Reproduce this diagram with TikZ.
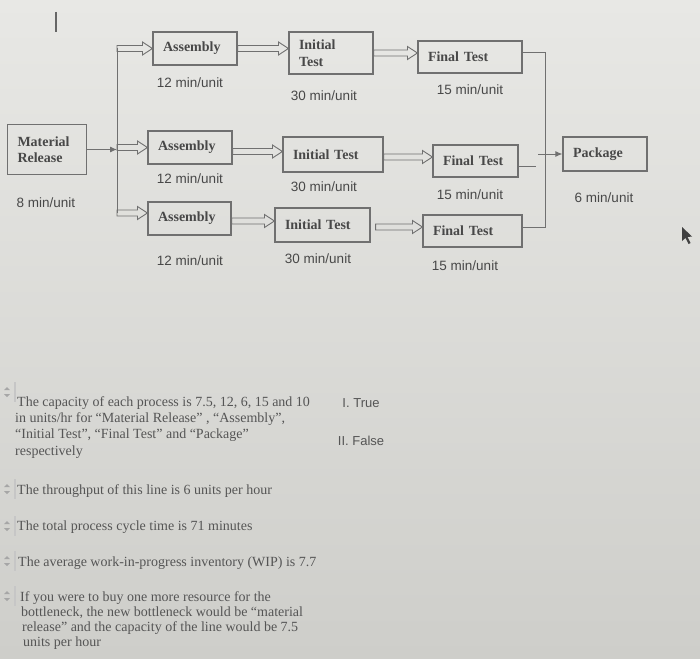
\documentclass[tikz,border=0pt]{standalone}
\usepackage{fontspec}
\setmainfont{Liberation Serif}
\newfontfamily\lsans{Liberation Sans}
\usetikzlibrary{calc,arrows.meta}
\definecolor{bgtop}{RGB}{232,232,229}
\definecolor{bgbot}{RGB}{206,206,202}
\definecolor{ink}{RGB}{72,72,72}
\definecolor{qink}{RGB}{85,85,85}
\definecolor{edge}{RGB}{112,112,112}
\newcommand\hollowarr[2]{%
  \draw[harr] ($(#1)+(0,-3)$) -- ($(#2)+(-10,-3)$) -- ($(#2)+(-10,-6.5)$) -- (#2)
    -- ($(#2)+(-10,6.5)$) -- ($(#2)+(-10,3)$) -- ($(#1)+(0,3)$) -- cycle;}
\newcommand\spinner[1]{%
  \fill[gray!70] ($(#1)+(1,-2)$) -- ($(#1)+(7,-2)$) -- ($(#1)+(4,-5)$) -- cycle;
  \fill[gray!70] ($(#1)+(1,2)$) -- ($(#1)+(7,2)$) -- ($(#1)+(4,5)$) -- cycle;
  \draw[gray!45, line width=1.2pt] ($(#1)+(12,-10)$) -- ($(#1)+(12,10)$);}
\begin{document}
\begin{tikzpicture}[x=1pt,y=-1pt,
  box/.style={draw=edge, line width=1.1pt, inner xsep=10pt, inner ysep=2pt, align=left,
    font=\fontsize{14}{16.5}\selectfont\bfseries, text=ink},
  rate/.style={font=\lsans\fontsize{13.5}{15}\selectfont, text=ink, inner sep=0pt},
  conn/.style={draw=edge, line width=1pt},
  harr/.style={draw=edge, line width=0.9pt, line join=miter},
  q/.style={anchor=base west, font=\fontsize{14}{16}\selectfont, text=qink, inner sep=0pt},
  ans/.style={font=\lsans\fontsize{13}{15}\selectfont, text=qink, inner sep=0pt},
]
\shade[top color=bgtop, bottom color=bgbot] (0,0) rectangle (700,658);
\useasboundingbox (0,0) rectangle (700,658);

% tick at top
\coordinate (tk1) at (56,12);
\coordinate (tk2) at (56,32);
\draw[gray!80!black, line width=1.3pt] (tk1) -- (tk2);

% boxes
\node[box, text width=59pt, minimum height=50pt] (mr) at (47,149.5) {Material\\Release};
\node[box, text width=64pt, minimum height=33pt] (as1) at (195,48.5) {Assembly};
\node[box, text width=64pt, minimum height=42pt] (it1) at (331,53) {Initial\\Test};
\node[box, text width=84pt, minimum height=32pt] (ft1) at (470,57) {Final Test};
\node[box, text width=64pt, minimum height=33pt] (as2) at (190,147.5) {Assembly};
\node[box, text width=80pt, minimum height=35pt] (it2) at (333,154.5) {Initial Test};
\node[box, text width=65pt, minimum height=32pt] (ft2) at (475.5,161) {Final Test};
\node[box, text width=63pt, minimum height=33pt] (as3) at (189.5,218.5) {Assembly};
\node[box, text width=75pt, minimum height=34pt] (it3) at (322.5,225) {Initial Test};
\node[box, text width=79pt, minimum height=32pt] (ft3) at (472.5,231) {Final Test};
\node[box, text width=64pt, minimum height=34pt] (pkg) at (605,154) {Package};

% rates
\node[rate] (r0) at (46,203) {8 min/unit};
\node[rate] (r1) at (190,83) {12 min/unit};
\node[rate] (r2) at (324,96) {30 min/unit};
\node[rate] (r3) at (470,90) {15 min/unit};
\node[rate] (r4) at (190,179) {12 min/unit};
\node[rate] (r5) at (324,187) {30 min/unit};
\node[rate] (r6) at (470,195) {15 min/unit};
\node[rate] (r7) at (190,261) {12 min/unit};
\node[rate] (r8) at (318,259) {30 min/unit};
\node[rate] (r9) at (465,266) {15 min/unit};
\node[rate] (r10) at (604,198) {6 min/unit};

% trunk on the left
\coordinate (tx) at (117,0);
\coordinate (e3) at ([yshift=5.5pt]as3.west);
\coordinate (s1) at (tx |- as1.west);
\coordinate (s2) at (tx |- as2.west);
\coordinate (s3) at (tx |- e3);
\draw[conn] (s1) -- (s3);
\draw[conn, -{Latex[length=7pt,width=6pt]}] (mr.east) -- (tx |- mr.east);
\hollowarr{s1}{as1.west}
\hollowarr{s2}{as2.west}
\hollowarr{s3}{e3}

% assembly -> initial test
\coordinate (b1) at (it1.west |- as1.east);
\hollowarr{as1.east}{b1}
\coordinate (c2) at ([yshift=-4pt]as2.east);
\coordinate (b2) at (it2.west |- c2);
\hollowarr{c2}{b2}
\coordinate (c3) at ([yshift=-2.5pt]as3.east);
\coordinate (b3) at (it3.west |- c3);
\hollowarr{c3}{b3}

% initial test -> final test
\coordinate (d1) at (ft1.west |- it1.east);
\hollowarr{it1.east}{d1}
\coordinate (g2) at ([yshift=-2.5pt]it2.east);
\coordinate (d2) at (ft2.west |- g2);
\hollowarr{g2}{d2}
\coordinate (g3) at ([xshift=5pt,yshift=-2pt]it3.east);
\coordinate (d3) at (ft3.west |- g3);
\hollowarr{g3}{d3}

% right side collector
\coordinate (rx) at (545,0);
\coordinate (f1) at ([yshift=4pt]ft1.east);
\coordinate (f3) at ([yshift=4pt]ft3.east);
\draw[conn] (f1) -- (rx |- f1) -- (rx |- f3) -- (f3);
\coordinate (f2) at ([yshift=-5pt]ft2.east);
\coordinate (f2e) at ([xshift=17pt]f2);
\draw[conn] (f2) -- (f2e);
\coordinate (pp) at (rx |- pkg.west);
\coordinate (p0) at ([xshift=-7pt]pp);
\draw[conn, -{Latex[length=7pt,width=6pt]}] (p0) -- (pkg.west);

% mouse cursor
\fill[black!75] (682,227) -- (682,241) -- (685.5,238) -- (688.5,244) -- (690.5,243) -- (687.5,237) -- (692,236.5) -- cycle;

% questions
\coordinate (sp1) at (3,392);
\coordinate (sp2) at (3,489);
\coordinate (sp3) at (3,526);
\coordinate (sp4) at (3,561);
\coordinate (sp5) at (3,596);
\spinner{sp1}
\spinner{sp2}
\spinner{sp3}
\spinner{sp4}
\spinner{sp5}

\node[q] (q1a) at (17,406) {The capacity of each process is 7.5, 12, 6, 15 and 10};
\node[q] (q1b) at (15,422) {in units/hr for “Material Release” , “Assembly”,};
\node[q] (q1c) at (15,438) {“Initial Test”, “Final Test” and “Package”};
\node[q] (q1d) at (15,455) {respectively};
\node[q] (q2) at (17,494) {The throughput of this line is 6 units per hour};
\node[q] (q3) at (17,530) {The total process cycle time is 71 minutes};
\node[q] (q4) at (18,566) {The average work-in-progress inventory (WIP) is 7.7};
\node[q] (q5a) at (20,601) {If you were to buy one more resource for the};
\node[q] (q5b) at (21,616) {bottleneck, the new bottleneck would be “material};
\node[q] (q5c) at (22,631) {release” and the capacity of the line would be 7.5};
\node[q] (q5d) at (23,646) {units per hour};

\node[ans] (a1) at (361,403) {I. True};
\node[ans] (a2) at (361,441) {II. False};
\end{tikzpicture}
\end{document}
